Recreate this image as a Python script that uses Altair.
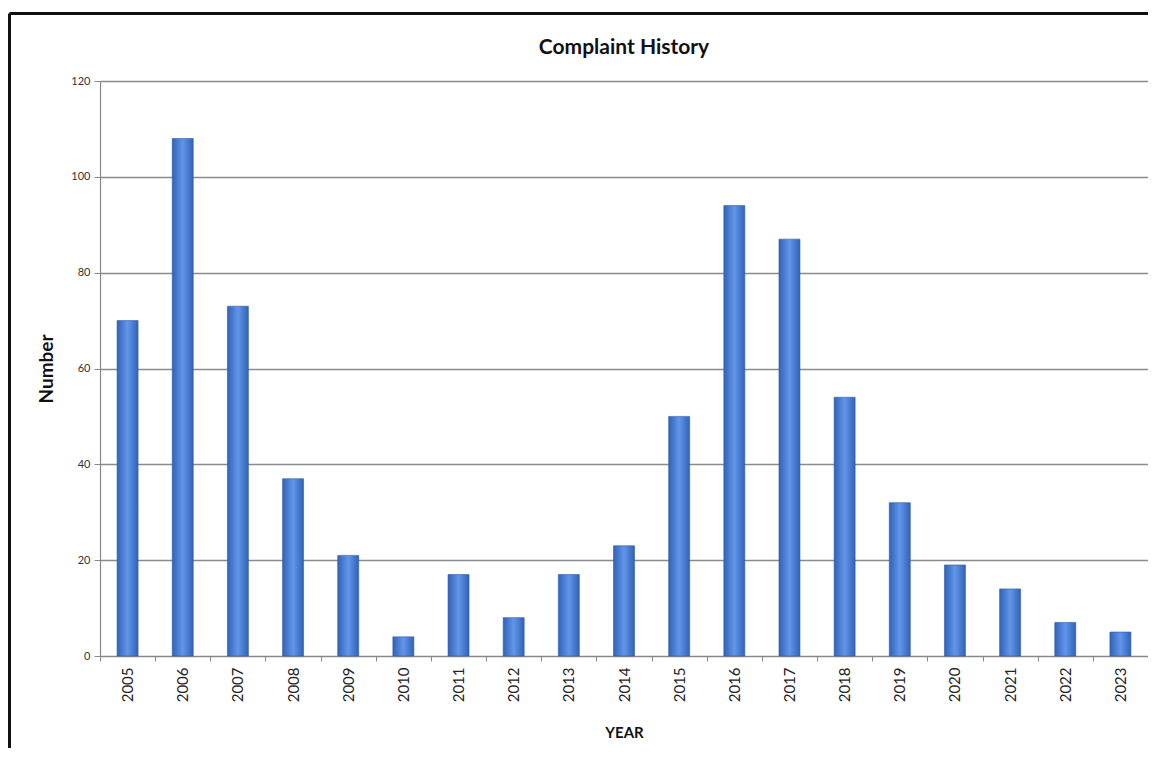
import altair as alt
import pandas as pd

years = ["2005", "2006", "2007", "2008", "2009", "2010", "2011", "2012", "2013", "2014",
         "2015", "2016", "2017", "2018", "2019", "2020", "2021", "2022", "2023"]
counts = [70, 108, 73, 37, 21, 4, 17, 8, 17, 23, 50, 94, 87, 54, 32, 19, 14, 7, 5]
y_ticks = [0, 20, 40, 60, 80, 100, 120]
chart_title = "Complaint History"

df = pd.DataFrame({"YEAR": years, "Number": counts})

FONT = "Lato"
W, H = 1048, 575

bar_fill = alt.Gradient(
    gradient="linear", x1=0, x2=1, y1=0, y2=0,
    stops=[
        alt.GradientStop(color="#3262b6", offset=0),
        alt.GradientStop(color="#5287dc", offset=0.35),
        alt.GradientStop(color="#6495e6", offset=0.5),
        alt.GradientStop(color="#5287dc", offset=0.65),
        alt.GradientStop(color="#3262b6", offset=1),
    ],
)

bars = alt.Chart(df).mark_bar(size=21, color=bar_fill, stroke="#2f5ca8", strokeWidth=0.6).encode(
    x=alt.X("YEAR:N", sort=years,
            scale=alt.Scale(paddingInner=0, paddingOuter=0),
            axis=alt.Axis(title="YEAR", labelAngle=-90, labelFontSize=15, labelFont=FONT,
                          labelColor="#222222", labelPadding=6,
                          tickBand="extent", tickSize=5, tickColor="#888888",
                          domainColor="#888888", domainWidth=1.2,
                          titleFont=FONT, titleFontSize=15, titleFontWeight="bold",
                          titleColor="#111111", titlePadding=24, grid=False)),
    y=alt.Y("Number:Q", scale=alt.Scale(domain=[0, 120], nice=False),
            axis=alt.Axis(title="Number", values=y_ticks, labelFontSize=11, labelFont=FONT,
                          labelColor="#333333", labelPadding=4,
                          tickSize=6, tickColor="#888888",
                          domainColor="#888888", domainWidth=1.2,
                          grid=True, gridColor="#8a8a8a", gridWidth=1.4,
                          titleFont=FONT, titleFontSize=19, titleFontWeight="bold",
                          titleColor="#111111", titlePadding=14)),
)

title_df = pd.DataFrame({"t": [chart_title]})
title = alt.Chart(title_df).mark_text(
    font=FONT, fontSize=21, fontWeight="bold", color="#111111",
    align="center", baseline="middle"
).encode(text="t:N", x=alt.value(W / 2), y=alt.value(-33))

border = alt.Chart(title_df).mark_rule(color="#111111", strokeWidth=3).encode(
    x=alt.value(-90.5), x2=alt.value(W + 20), y=alt.value(-67.5)
)
border_left = alt.Chart(title_df).mark_rule(color="#111111", strokeWidth=3).encode(
    x=alt.value(-90.5), y=alt.value(-67.5), y2=alt.value(H + 200)
)

chart = alt.layer(bars, title, border, border_left).properties(
    width=W, height=H,
    autosize=alt.AutoSizeParams(type="none"),
    padding={"left": 92, "top": 73, "right": 0, "bottom": 92},
).configure_view(stroke=None).configure(background="white")

chart.save("out.html", embed_options={"renderer": "svg", "actions": False})
